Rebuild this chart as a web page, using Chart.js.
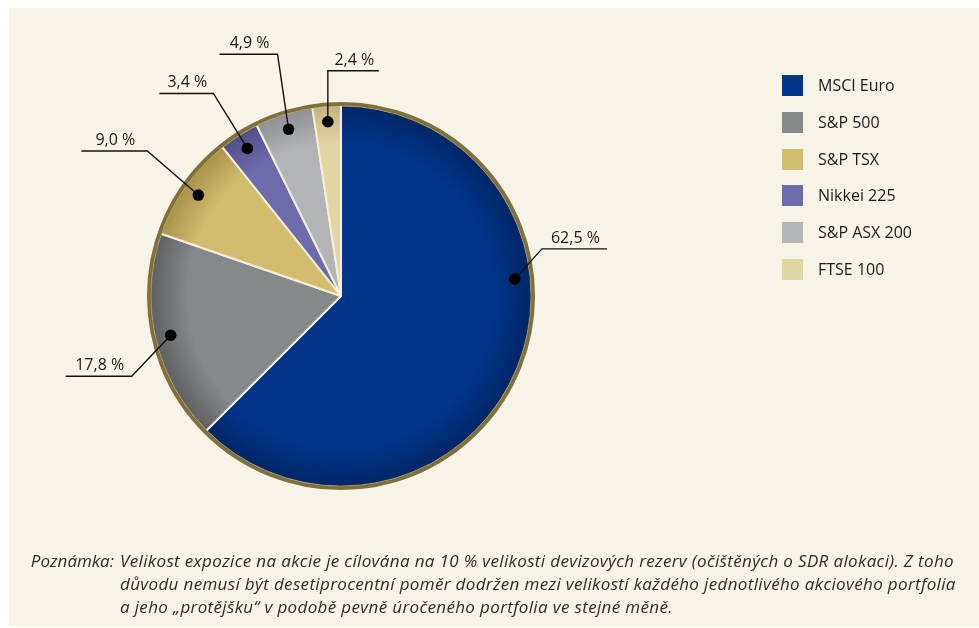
<!DOCTYPE html>
<html lang="cs">
<head>
<meta charset="utf-8">
<script src="https://cdn.jsdelivr.net/npm/chart.js@4.4.1/dist/chart.umd.min.js"></script>
<style>
  html, body { margin: 0; padding: 0; background: #ffffff; }
  #wrap { position: relative; width: 979px; height: 628px; overflow: hidden; }
  #panel { position: absolute; left: 9px; top: 8px; right: 0; bottom: 2px; background: #f7f4e7; }
  #myPieChart { position: absolute; left: 0; top: 0; }
  #legend { position: absolute; left: 782px; top: 75px; font-family: "Open Sans", sans-serif; font-size: 16px; color: #1a1a1a; }
  #legend .item { position: relative; height: 36.8px; }
  #legend .box { position: absolute; left: 0; top: 0; width: 21px; height: 21px; }
  #legend .txt { position: absolute; left: 36px; top: -1px; line-height: 22px; white-space: nowrap; }
  #note { position: absolute; left: 0; top: 549px; width: 979px; height: 70px; font-family: "Open Sans", sans-serif; font-style: italic; font-size: 17px; color: #2b2b2b; line-height: 23px; }
  #note .lbl { position: absolute; right: 865px; top: 0; white-space: nowrap; }
  #note .body { position: absolute; left: 120px; top: 0; white-space: nowrap; letter-spacing: 0.35px; }
</style>
</head>
<body>
<div id="wrap">
  <div id="panel"></div>
  <canvas id="myPieChart" width="979" height="628"></canvas>
  <div id="legend"></div>
  <div id="note">
    <div class="lbl">Poznámka:</div>
    <div class="body">Velikost expozice na akcie je cílována na 10 % velikosti devizových rezerv (očištěných o SDR alokaci). Z toho<br>důvodu nemusí být desetiprocentní poměr dodržen mezi velikostí každého jednotlivého akciového portfolia<br>a jeho „protějšku“ v podobě pevně úročeného portfolia ve stejné měně.</div>
  </div>
</div>
<script>
const labels = ['MSCI Euro', 'S&P 500', 'S&P TSX', 'Nikkei 225', 'S&P ASX 200', 'FTSE 100'];
const shares = [62.5, 17.8, 9.0, 3.4, 4.9, 2.4];
const colors = ['#00358a', '#87888a', '#d2bc6e', '#6d6cab', '#b3b4b6', '#e2d5a4'];
const edgeColors = ['#002666', '#5f6062', '#a8924a', '#4f4e88', '#8e8f91', '#c2b37e'];

// leader lines: where the dot sits along the slice, elbow offset, horizontal run (+ = right)
const leaders = [
    { frac: 0.375, dx: 27, dy: -30, run: 65 },
    { frac: 0.5, dx: -39, dy: 41, run: -66 },
    { frac: 0.5, dx: -51, dy: -44, run: -66 },
    { frac: 0.5, dx: -34, dy: -55, run: -54 },
    { frac: 0.5, dx: -11, dy: -75, run: -58 },
    { frac: 0.5, dx: 0, dy: -51, run: 51 }
];

const pieRadius = 191;

// html legend
const legendEl = document.getElementById('legend');
labels.forEach(function (name, i) {
    const row = document.createElement('div');
    row.className = 'item';
    row.innerHTML = '<div class="box" style="background:' + colors[i] + '"></div><div class="txt"></div>';
    row.querySelector('.txt').textContent = name;
    legendEl.appendChild(row);
});

const ringAndLabels = {
    id: 'ringAndLabels',
    afterDatasetsDraw(chart) {
        const ctx = chart.ctx;
        const meta = chart.getDatasetMeta(0);
        const first = meta.data[0];
        const cx = first.x, cy = first.y, r = first.outerRadius;

        // outer olive ring
        ctx.save();
        ctx.beginPath();
        ctx.arc(cx, cy, r + 1, 0, Math.PI * 2);
        ctx.strokeStyle = '#7f6f3c';
        ctx.lineWidth = 4;
        ctx.stroke();
        ctx.beginPath();
        ctx.arc(cx, cy, r - 1, 0, Math.PI * 2);
        ctx.strokeStyle = 'rgba(190,170,100,0.6)';
        ctx.lineWidth = 1;
        ctx.stroke();

        // dots + leader lines + labels
        ctx.font = '16px "Open Sans", sans-serif';
        ctx.textAlign = 'center';
        ctx.textBaseline = 'alphabetic';
        meta.data.forEach(function (arc, i) {
            const L = leaders[i];
            const a = arc.startAngle + (arc.endAngle - arc.startAngle) * L.frac;
            const px = cx + Math.cos(a) * r * 0.915;
            const py = cy + Math.sin(a) * r * 0.915;
            const ex = px + L.dx, ey = py + L.dy;
            const hx = ex + L.run;
            ctx.beginPath();
            ctx.moveTo(px, py);
            ctx.lineTo(ex, ey);
            ctx.lineTo(hx, ey);
            ctx.strokeStyle = '#111111';
            ctx.lineWidth = 1.4;
            ctx.stroke();
            ctx.beginPath();
            ctx.arc(px, py, 5.8, 0, Math.PI * 2);
            ctx.fillStyle = '#000000';
            ctx.fill();
            ctx.fillStyle = '#1a1a1a';
            const txt = shares[i].toFixed(1).replace('.', ',') + ' %';
            ctx.fillText(txt, (ex + hx) / 2 + 1, ey - 6);
        });
        ctx.restore();
    }
};

window.onload = function () {
    const ctx = document.getElementById('myPieChart').getContext('2d');
    const myPieChart = new Chart(ctx, {
        type: 'pie',
        data: {
            labels: labels,
            datasets: [{
                data: shares,
                backgroundColor: function (c) {
                    const area = c.chart.chartArea;
                    if (!area) return colors[c.dataIndex];
                    const cx = (area.left + area.right) / 2;
                    const cy = (area.top + area.bottom) / 2;
                    const g = c.chart.ctx.createRadialGradient(cx, cy, 0, cx, cy, pieRadius);
                    g.addColorStop(0, colors[c.dataIndex]);
                    g.addColorStop(0.8, colors[c.dataIndex]);
                    g.addColorStop(1, edgeColors[c.dataIndex]);
                    return g;
                },
                borderColor: '#f4efdc',
                borderWidth: 2
            }]
        },
        options: {
            responsive: false,
            animation: false,
            radius: pieRadius,
            layout: {
                padding: { left: 141, right: 438, top: 96, bottom: 132 }
            },
            plugins: {
                legend: { display: false },
                tooltip: { enabled: false }
            }
        },
        plugins: [ringAndLabels]
    });
};
</script>
</body>
</html>
